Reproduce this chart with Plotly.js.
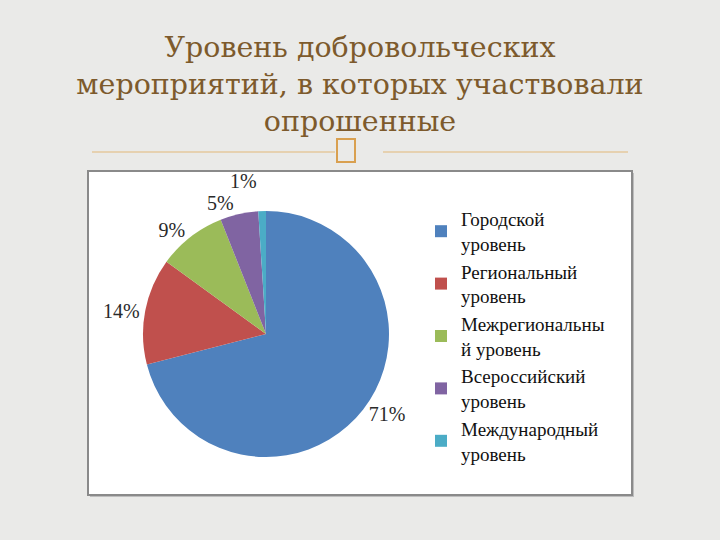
<!DOCTYPE html>
<html>
<head>
<meta charset="utf-8">
<script src="https://cdn.plot.ly/plotly-3.0.1.min.js"></script>
<style>html,body{margin:0;padding:0;background:#EAEAE8;}#chart{width:720px;height:540px;} .textline{display:none;}</style>
</head>
<body>
<div id="chart"></div>
<script>
var categories = ["Городской<br>уровень", "Региональный<br>уровень", "Межрегиональны<br>й уровень", "Всероссийский<br>уровень", "Международный<br>уровень"];
var values = [71, 14, 9, 5, 1];
var colors = ["#4F81BD", "#C0504D", "#9BBB59", "#8064A2", "#4BACC6"];
var titleText = "Уровень добровольческих<br>мероприятий, в которых участвовали<br>опрошенные";

var W = 720, H = 540;
function px(x){return x / W;}
function py(y){return 1 - y / H;}

var trace = {
  type: "pie",
  labels: categories,
  values: values,
  marker: {colors: colors},
  sort: false,
  direction: "clockwise",
  rotation: 0,
  textinfo: "percent",
  texttemplate: "%{percent:.0%}",
  textposition: "outside",
  outsidetextfont: {family: "Liberation Serif", size: 20, color: "#2a2a2a"},
  hoverinfo: "none",
  domain: {x: [px(143), px(389)], y: [py(457), py(211)]}
};

var layout = {
  width: W, height: H,
  margin: {l: 0, r: 0, t: 0, b: 0},
  paper_bgcolor: "#EAEAE8",
  plot_bgcolor: "#EAEAE8",
  showlegend: true,
  legend: {
    x: px(421), y: py(200), xanchor: "left", yanchor: "top",
    font: {family: "Liberation Serif", size: 19, color: "#111"},
    bgcolor: "rgba(0,0,0,0)", traceorder: "normal"
  },
  title: {
    text: titleText,
    x: 0.5, xanchor: "center", xref: "paper",
    y: py(57), yanchor: "top", yref: "paper",
    font: {family: "DejaVu Serif", size: 28.5, color: "#7D5A2C"}
  },
  shapes: [
    {type: "rect", xref: "paper", yref: "paper", x0: px(90), x1: px(634), y0: py(497), y1: py(173), fillcolor: "#BDBDBD", line: {width: 0}, layer: "below"},
    {type: "rect", xref: "paper", yref: "paper", x0: px(88), x1: px(632), y0: py(495), y1: py(171), fillcolor: "#FFFFFF", line: {color: "#8A8A8A", width: 2}, layer: "below"},
    {type: "line", xref: "paper", yref: "paper", x0: px(92), x1: px(335), y0: py(152), y1: py(152), line: {color: "#E2B878", width: 1.2}},
    {type: "line", xref: "paper", yref: "paper", x0: px(383), x1: px(628), y0: py(152), y1: py(152), line: {color: "#E2B878", width: 1.2}},
    {type: "rect", xref: "paper", yref: "paper", x0: px(337), x1: px(355), y0: py(162), y1: py(139), fillcolor: "rgba(0,0,0,0)", line: {color: "#D9A050", width: 2}}
  ]
};

Plotly.newPlot("chart", [trace], layout, {displayModeBar: false, staticPlot: true});
</script>
</body>
</html>
